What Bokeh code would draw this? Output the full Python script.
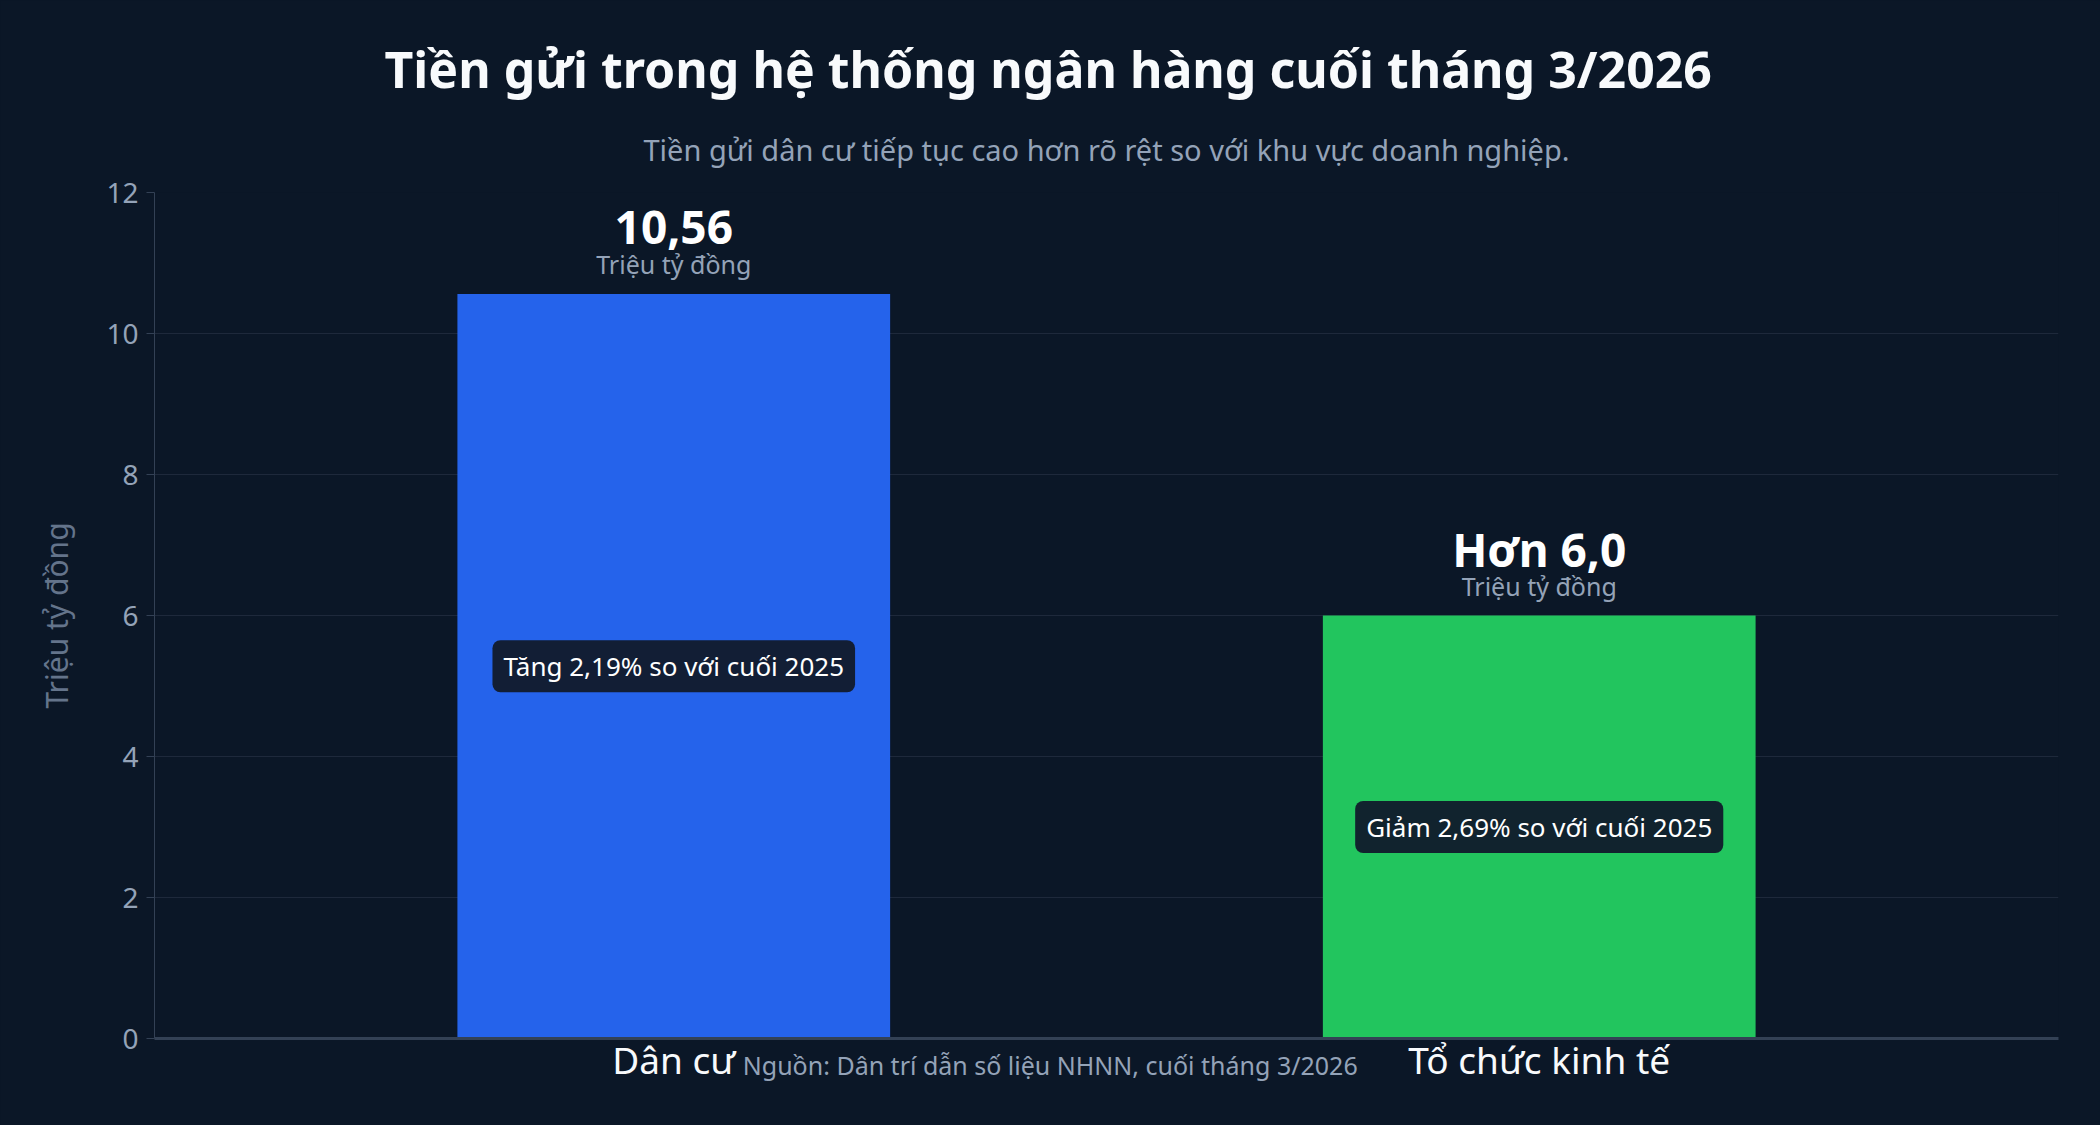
from bokeh.plotting import figure
from bokeh.models import ColumnDataSource, FactorRange, Range1d, Title, Label, FixedTicker, GlobalInlineStyleSheet
from bokeh.core.properties import value
from bokeh.embed import file_html
from bokeh.resources import INLINE

# ---- data ----
categories = ["Dân cư", "Tổ chức kinh tế"]
values = [10.56, 6.0]
value_labels = ["10,56", "Hơn 6,0"]
unit_labels = ["Triệu tỷ đồng", "Triệu tỷ đồng"]
change_labels = ["Tăng 2,19% so với cuối 2025", "Giảm 2,69% so với cuối 2025"]
bar_colors = ["#2563eb", "#22c55e"]
y_ticks = [0, 2, 4, 6, 8, 10, 12]

title_text = "Tiền gửi trong hệ thống ngân hàng cuối tháng 3/2026"
subtitle_text = "Tiền gửi dân cư tiếp tục cao hơn rõ rệt so với khu vực doanh nghiệp."
source_text = "Nguồn: Dân trí dẫn số liệu NHNN, cuối tháng 3/2026"
y_label = "Triệu tỷ đồng"

BG = "#0b1727"
FONT = "Noto Sans"

src = ColumnDataSource(dict(
    cat=categories, val=values, mid=[v / 2 for v in values],
    vlab=value_labels, ulab=unit_labels, clab=change_labels, color=bar_colors,
))

p = figure(
    width=2100, height=1125,
    x_range=FactorRange(factors=categories, range_padding=0.1),
    y_range=Range1d(0, 12),
    output_backend="svg", toolbar_location=None,
    min_border_left=154, min_border_right=42, min_border_top=192, min_border_bottom=87,
    background_fill_color=BG, border_fill_color=BG, outline_line_color=None,
)
p.stylesheets = [GlobalInlineStyleSheet(css="html, body { background: %s; }" % BG)]

# titles (closest to frame first)
p.add_layout(Title(text=subtitle_text, align="center", text_font=FONT, text_font_size="29px",
                   text_font_style="normal", text_color="#94a3b8", standoff=48), "above")
p.add_layout(Title(text=title_text, align="left", text_font=FONT, text_font_size="50px",
                   text_font_style="bold", text_color="#f8fafc", offset=230, standoff=2), "above")

p.vbar(x="cat", top="val", width=0.5, fill_color="color", line_color=None, source=src)

p.text(x="cat", y="val", text="vlab", y_offset=-67, text_align="center", text_baseline="alphabetic",
       text_font=value(FONT), text_font_size="46px", text_font_style="bold", text_color="#ffffff", source=src)
p.text(x="cat", y="val", text="ulab", y_offset=-30, text_align="center", text_baseline="alphabetic",
       text_font=value(FONT), text_font_size="25px", text_color="#94a3b8", source=src)
p.text(x="cat", y="mid", text="clab", text_align="center", text_baseline="middle",
       text_font=value(FONT), text_font_size="26px", text_color="#ffffff",
       background_fill_color="#111a2b", background_fill_alpha=0.95,
       padding=[11, 8], border_radius=8, source=src)

# source note, placed in the bottom panel so it is not clipped by the frame
p.add_layout(Label(x=0.935, y=-0.37, x_units="data", y_units="data", text=source_text,
                   text_align="center", text_baseline="alphabetic", text_font=FONT,
                   text_font_size="25px", text_color="#94a3b8"), "below")

# axes
p.yaxis.ticker = FixedTicker(ticks=y_ticks)
p.yaxis.axis_label = y_label
p.yaxis.axis_label_text_font = FONT
p.yaxis.axis_label_text_font_size = "30px"
p.yaxis.axis_label_text_font_style = "normal"
p.yaxis.axis_label_text_color = "#64748b"
p.yaxis.axis_label_standoff = 26
p.yaxis.major_label_text_font = FONT
p.yaxis.major_label_text_font_size = "28px"
p.yaxis.major_label_text_color = "#94a3b8"
p.yaxis.major_label_standoff = 8
p.yaxis.major_tick_out = 8
p.yaxis.major_tick_in = 0
p.yaxis.minor_tick_line_color = None
p.yaxis.major_tick_line_color = "#334155"
p.yaxis.axis_line_color = "#334155"

p.xaxis.major_label_text_font = FONT
p.xaxis.major_label_text_font_size = "37px"
p.xaxis.major_label_text_color = "#f8fafc"
p.xaxis.major_tick_line_color = None
p.xaxis.major_tick_out = 0
p.xaxis.major_label_standoff = -5
p.xaxis.axis_line_color = "#334155"
p.xaxis.axis_line_width = 3

p.xgrid.grid_line_color = None
p.ygrid.grid_line_color = "#1e293b"

open("out.html", "w").write(file_html(p, INLINE))
